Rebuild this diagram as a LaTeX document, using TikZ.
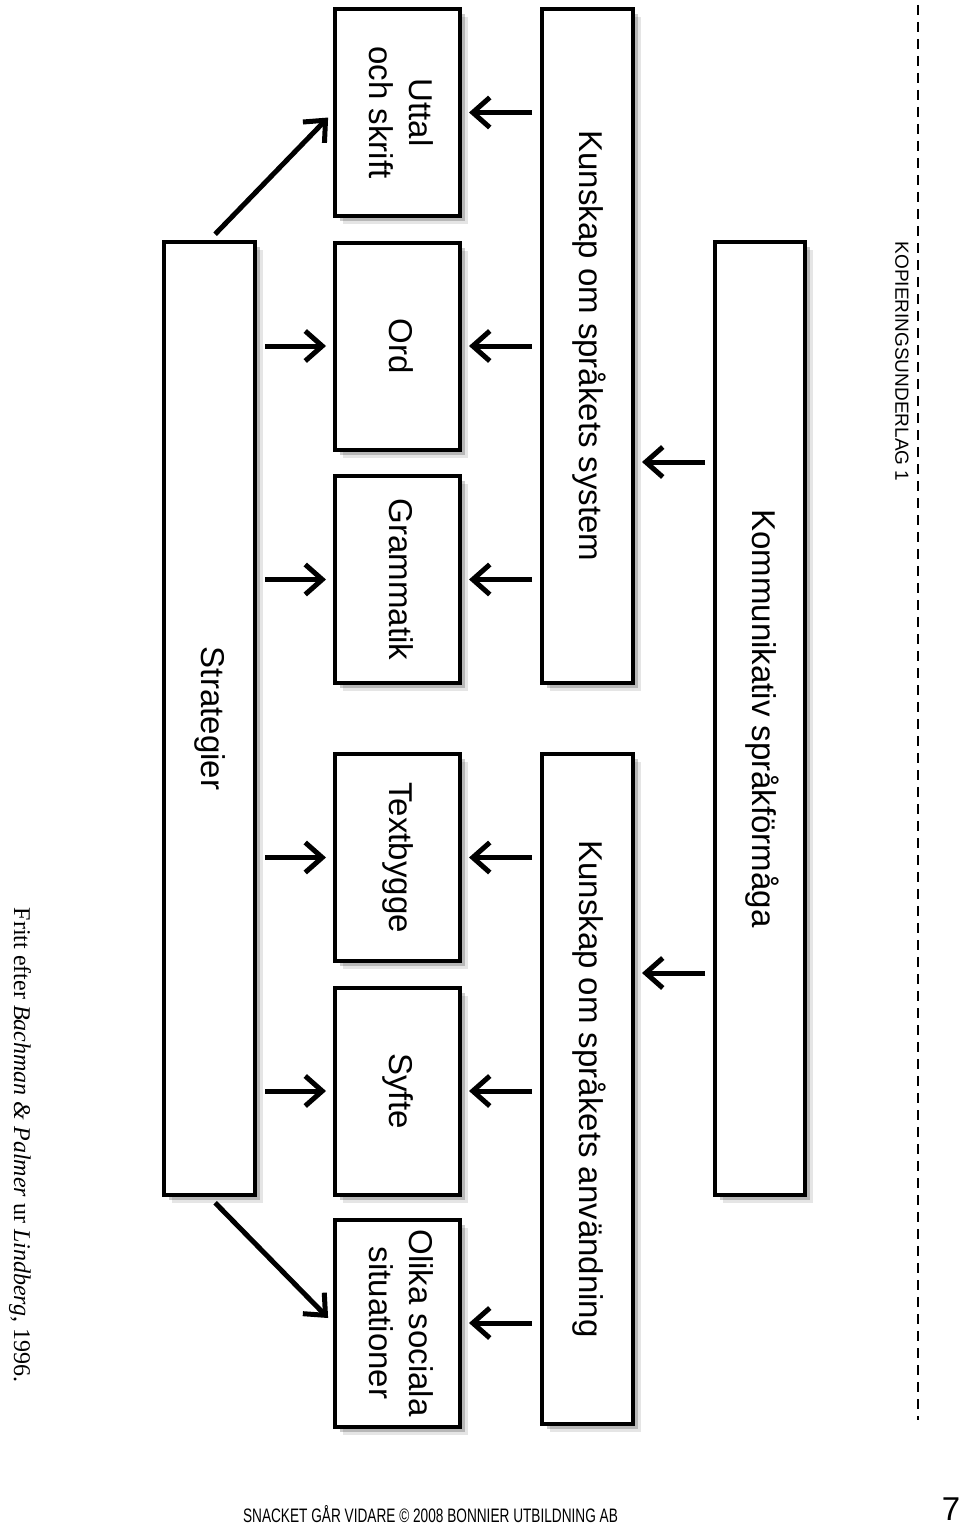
\documentclass[tikz,border=0pt]{standalone}
\usepackage{fontspec}
\usepackage{graphicx}
\setmainfont{Liberation Sans}
\newfontfamily\sourcefont{Liberation Serif}
\usetikzlibrary{arrows.meta,shadows}

\tikzset{
	box/.style={draw, line width=4pt, fill=white, inner sep=0pt,
		drop shadow={shadow xshift=2pt, shadow yshift=-2pt, fill=black, opacity=.3},
		drop shadow={shadow xshift=5pt, shadow yshift=-5pt, fill=black, opacity=.2},
		drop shadow={shadow xshift=8pt, shadow yshift=-8pt, fill=black, opacity=.1},
		font=\fontsize{33}{40}\selectfont},
	smallbox/.style={box, minimum width=125pt, minimum height=207pt},
	longbox/.style={box, minimum width=91pt},
	arr/.style={-{Straight Barb[length=17pt,width=30pt]}, line width=5pt,
		shorten <=8pt, shorten >=7pt},
}
\newcommand{\vtext}[1]{\rotatebox{-90}{\begin{tabular}{@{}c@{}}#1\end{tabular}}}

\begin{document}
\begin{tikzpicture}[x=1pt, y=-1pt]
	\useasboundingbox (0,0) rectangle (960,1525);
	
	% long boxes
	\node[longbox, minimum height=953pt] (strategier) at (209.5,718.5) {\vtext{Strategier}};
	\node[longbox, minimum height=674pt] (system) at (587.5,346) {\vtext{Kunskap om språkets system}};
	\node[longbox, minimum height=670pt] (anvand) at (587.5,1089) {\vtext{Kunskap om språkets användning}};
	\node[longbox, minimum height=953pt, minimum width=90pt] (komm) at (760,718.5) {\vtext{Kommunikativ språkförmåga}};
	
	% small boxes
	\foreach \n/\y/\t in {uttal/112.5/{Uttal\\och skrift}, ord/346/Ord, gram/579.5/Grammatik,
		textb/857.5/Textbygge, syfte/1091/Syfte, olika/1323/{Olika sociala\\situationer}}
	\node[smallbox] (\n) at (397.5,\y) {\vtext{\t}};
	
	% strategier
	\draw[arr] (strategier.north) -- (uttal.west);
	\draw[arr] (strategier.south) -- (olika.west);
	\foreach \n in {ord, gram, textb, syfte}
	\draw[arr] (strategier.east |- \n.west) -- (\n.west);
	
	% kunskap
	\foreach \n in {uttal, ord, gram}
	\draw[arr] (system.west |- \n.east) -- (\n.east);
	\foreach \n in {textb, syfte, olika}
	\draw[arr] (anvand.west |- \n.east) -- (\n.east);
	
	% kommunikativ
	\coordinate (k1) at (0,462);
	\coordinate (k2) at (0,973);
	\draw[arr] (komm.west |- k1) -- (system.east |- k1);
	\draw[arr] (komm.west |- k2) -- (anvand.east |- k2);
	
	% cut line
	\coordinate (cuttop) at (918,5);
	\coordinate (cutbottom) at (918,1420);
	\draw[line width=2pt, dash pattern=on 10pt off 7pt] (cuttop) -- (cutbottom);
	\node[rotate=-90, font=\fontsize{19}{20}\selectfont] (kopiering) at (902,361.5) {KOPIERINGSUNDERLAG 1};
	
	% source and footer
	\node[rotate=-90, font=\sourcefont\fontsize{24}{25}\selectfont] (source) at (20,1145)
	{Fritt efter \textit{Bachman \& Palmer} ur \textit{Lindberg}, 1996.};
	\node (footer) at (430.5,1514)
	{\scalebox{0.7}[1]{\fontsize{19.5}{20}\selectfont SNACKET GÅR VIDARE © 2008 BONNIER UTBILDNING AB}};
	\node (pagenr) at (951,1509) {\fontsize{33}{33}\selectfont 7};
\end{tikzpicture}
\end{document}
